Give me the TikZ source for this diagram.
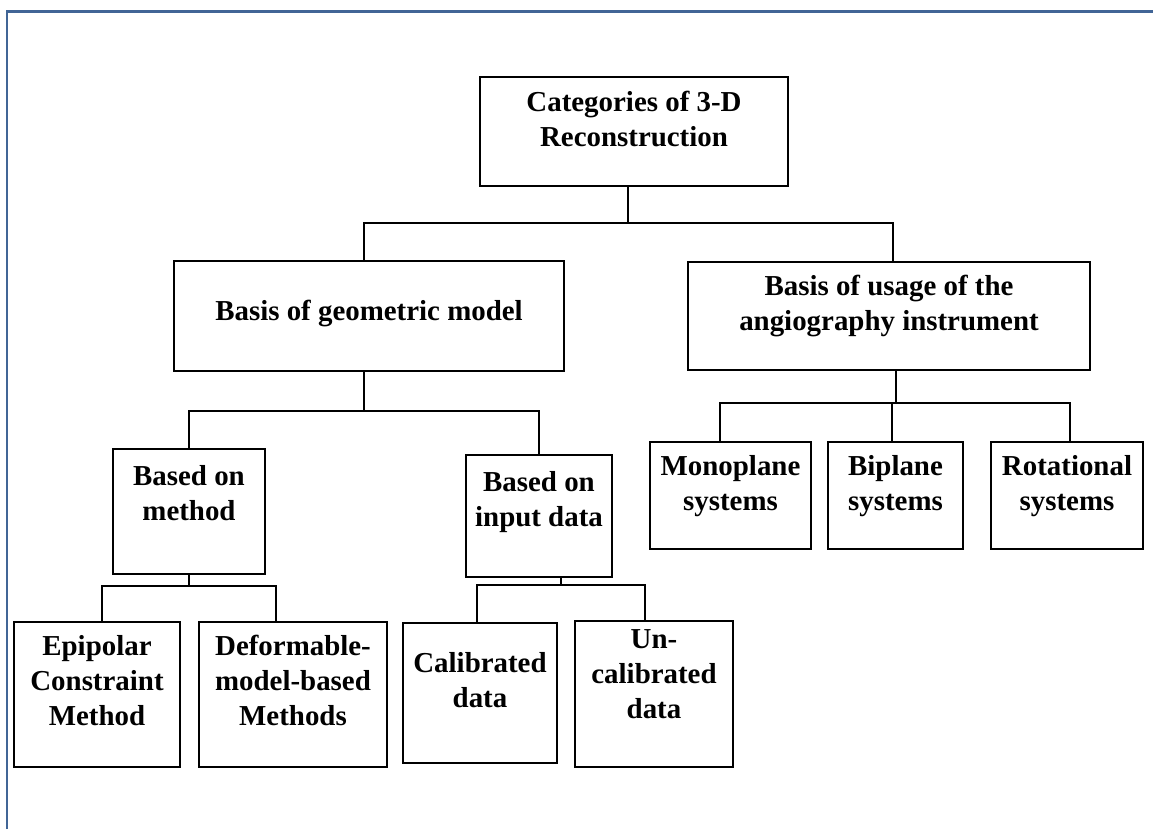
\documentclass[tikz,border=0pt]{standalone}
\usepackage{fontspec}
\setmainfont{Liberation Serif}
\definecolor{frameblue}{RGB}{65,101,150}
\newcommand{\boxtext}[2]{\raisebox{#1}[0pt][0pt]{\begin{tabular}[b]{@{}c@{}}#2\end{tabular}}}

\begin{document}
\begin{tikzpicture}[x=0.02cm,y=-0.02cm,
  box/.style={draw,line width=0.04cm,inner sep=0pt,font=\fontsize{16.45}{19.9}\selectfont\bfseries},
  link/.style={draw,line width=0.04cm}]
\useasboundingbox (0,0) rectangle (1153,829);
\draw[frameblue,line width=0.06cm] (7,829) -- (7,11) -- (1153,11);

% top
\node[box,minimum width=6.16cm,minimum height=2.18cm] (root) at (634,131.5) {\boxtext{-0.29cm}{Categories of 3-D\\Reconstruction}};

% second row
\node[box,minimum width=7.8cm,minimum height=2.2cm] (geo) at (369,316) {\boxtext{-0.09cm}{Basis of geometric model}};
\node[box,minimum width=8.04cm,minimum height=2.16cm] (usage) at (889,316) {\boxtext{-0.28cm}{Basis of usage of the\\angiography instrument}};

% third row
\node[box,minimum width=3.04cm,minimum height=2.5cm] (method) at (189,511.5) {\boxtext{-0.17cm}{Based on\\method}};
\node[box,minimum width=2.92cm,minimum height=2.44cm] (input) at (539,516) {\boxtext{-0.2cm}{Based on\\input data}};
\node[box,minimum width=3.22cm,minimum height=2.14cm] (mono) at (730.5,495.5) {\boxtext{-0.29cm}{Monoplane\\systems}};
\node[box,minimum width=2.7cm,minimum height=2.14cm] (bi) at (895.5,495.5) {\boxtext{-0.29cm}{Biplane\\systems}};
\node[box,minimum width=3.04cm,minimum height=2.14cm] (rot) at (1067,495.5) {\boxtext{-0.29cm}{Rotational\\systems}};

% bottom row
\node[box,minimum width=3.32cm,minimum height=2.9cm] (epi) at (97,694.5) {\boxtext{-0.61cm}{Epipolar\\Constraint\\Method}};
\node[box,minimum width=3.76cm,minimum height=2.9cm] (def) at (293,694.5) {\boxtext{-0.61cm}{Deformable-\\model-based\\Methods}};
\node[box,minimum width=3.08cm,minimum height=2.8cm] (cal) at (480,693) {\boxtext{-0.28cm}{Calibrated\\data}};
\node[box,minimum width=3.16cm,minimum height=2.92cm] (uncal) at (654,694) {\boxtext{-0.48cm}{Un-\\calibrated\\data}};

% junctions
\coordinate (j0) at (628,223);
\coordinate (j1) at (364,411);
\coordinate (j2) at (896,403);
\coordinate (j3) at (189,586);
\coordinate (j4) at (561,585);

\draw[link] (root.south -| j0) -- (j0);
\draw[link] (geo.north -| j1) |- (j0) -| ([xshift=0.08cm]usage.north);

\draw[link] (geo.south -| j1) -- (j1);
\draw[link] (method.north) |- (j1) -| (input.north);

\draw[link] (usage.south -| j2) -- (j2);
\draw[link] ([xshift=-0.21cm]mono.north) |- (j2) -| ([xshift=0.06cm]rot.north);
\draw[link] ([xshift=-0.07cm]bi.north) -- ([xshift=-0.07cm]bi.north |- j2);

\draw[link] (method.south) -- (j3);
\draw[link] ([xshift=0.1cm]epi.north) |- (j3) -| ([xshift=-0.34cm]def.north);

\draw[link] (input.south -| j4) -- (j4);
\draw[link] ([xshift=-0.06cm]cal.north) |- (j4) -| ([xshift=-0.18cm]uncal.north);

\end{tikzpicture}
\end{document}
